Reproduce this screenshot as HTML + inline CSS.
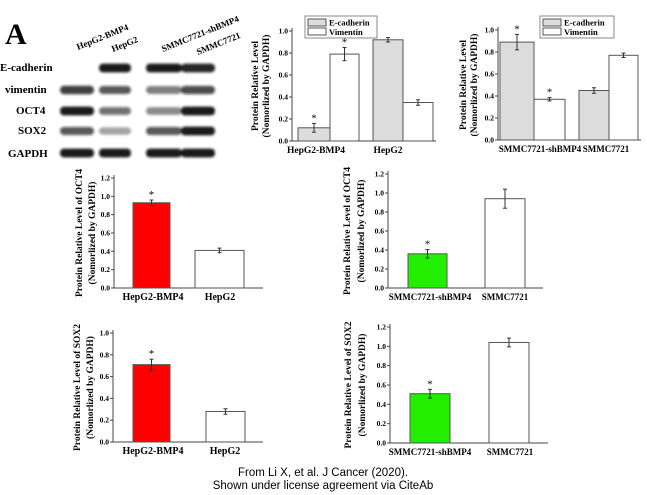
<!DOCTYPE html>
<html><head><meta charset="utf-8"><style>
body{margin:0;background:#fff}
svg{display:block;font-family:"Liberation Serif",serif;font-weight:bold}
</style></head><body>
<svg id="s" width="647" height="495" viewBox="0 0 647 495" xmlns="http://www.w3.org/2000/svg">
<defs><filter id="b" x="-20%" y="-50%" width="140%" height="200%"><feGaussianBlur stdDeviation="1.3"/></filter></defs>
<text x="5" y="44" font-size="30">A</text>
<g font-size="11">
<text x="0" y="71">E-cadherin</text>
<text x="5" y="93">vimentin</text>
<text x="16" y="114">OCT4</text>
<text x="18" y="134">SOX2</text>
<text x="8" y="157">GAPDH</text>
</g>
<g font-size="9">
<text transform="translate(78,50) rotate(-22)">HepG2-BMP4</text>
<text transform="translate(113,52) rotate(-22)">HepG2</text>
<text transform="translate(163,52) rotate(-22)">SMMC7721-shBMP4</text>
<text transform="translate(198,55) rotate(-22)">SMMC7721</text>
</g>
<g id="bands" filter="url(#b)"></g>
<g id="charts" font-weight="bold"></g>
<text x="323" y="476" font-family="Liberation Sans,sans-serif" font-weight="normal" font-size="11.5" text-anchor="middle">From Li X, et al. J Cancer (2020).</text>
<text x="323" y="489" font-family="Liberation Sans,sans-serif" font-weight="normal" font-size="11.5" text-anchor="middle">Shown under license agreement via CiteAb</text>
</svg>
<script>
var NS="http://www.w3.org/2000/svg";
var bands=document.getElementById('bands'),ch=document.getElementById('charts');
function add(p,tag,a,txt){var e=document.createElementNS(NS,tag);for(var k in a)e.setAttribute(k,a[k]);if(txt!=null)e.textContent=txt;p.appendChild(e);return e;}
var lanes=[[77,30],[115,28],[164,32],[198,30]];
var rows=[68,90,111,131,153];
var I=[[0.05,0.95,0.95,0.9],[0.8,0.7,0.55,0.75],[0.95,0.6,0.5,0.95],[0.7,0.4,0.7,0.95],[0.95,0.95,0.95,0.95]];
for(var r=0;r<5;r++)for(var l=0;l<4;l++){var v=I[r][l];if(v<0.1)continue;
add(bands,'rect',{x:lanes[l][0]-lanes[l][1]/2-2,y:rows[r]-3-v*1.5,width:lanes[l][1]+4,height:6+v*3,rx:4,fill:'#111','fill-opacity':v});}
function chart(o){
 var g=ch, s=(o.y0-o.yt)/o.max;
 add(g,'line',{x1:o.x0,y1:o.yt-3,x2:o.x0,y2:o.y0,stroke:'#444','stroke-width':1});
 add(g,'line',{x1:o.x0,y1:o.y0,x2:o.xe,y2:o.y0,stroke:'#444','stroke-width':1});
 for(var v=0;v<=o.max+1e-6;v+=o.step){var y=o.y0-v*s;
  add(g,'line',{x1:o.x0-3,y1:y,x2:o.x0,y2:y,stroke:'#444'});
  add(g,'text',{x:o.x0-4,y:y+2.5,'font-size':7.5,'text-anchor':'end'},v.toFixed(1));}
 o.bars.forEach(function(b){var h=b.v*s;
  add(g,'rect',{x:b.x1,y:o.y0-h,width:b.x2-b.x1,height:h,fill:b.f,stroke:'#555','stroke-width':1});
  var c=(b.x1+b.x2)/2,e=b.e*s;
  add(g,'line',{x1:c,y1:o.y0-h-e,x2:c,y2:o.y0-h+e,stroke:'#333'});
  add(g,'line',{x1:c-2,y1:o.y0-h-e,x2:c+2,y2:o.y0-h-e,stroke:'#333'});
  add(g,'line',{x1:c-2,y1:o.y0-h+e,x2:c+2,y2:o.y0-h+e,stroke:'#333'});
  if(b.st)add(g,'text',{x:c,y:o.y0-h-e-2,'font-size':11,'text-anchor':'middle','font-weight':'normal'},'*');});
 o.labs.forEach(function(l){add(g,'text',{x:l[0],y:o.y0+12,'font-size':o.lf||10,'text-anchor':'middle'},l[1]);});
 var cy=(o.y0+o.yt)/2;
 add(g,'text',{transform:'translate('+o.yl[0]+','+cy+') rotate(-90)','font-size':o.yf||9.5,'text-anchor':'middle'},o.yl[2]);
 add(g,'text',{transform:'translate('+o.yl[1]+','+cy+') rotate(-90)','font-size':o.yf||9.5,'text-anchor':'middle'},'(Nomorlized by GAPDH)');
 if(o.leg){var lx=o.leg[0],ly=o.leg[1];
  add(g,'rect',{x:lx,y:ly,width:o.leg[2],height:22,fill:'#fff',stroke:'#888'});
  add(g,'rect',{x:lx+3,y:ly+3,width:18,height:7,fill:'#ddd',stroke:'#555'});
  add(g,'rect',{x:lx+3,y:ly+12,width:18,height:7,fill:'#fff',stroke:'#555'});
  add(g,'text',{x:lx+24,y:ly+9.5,'font-size':8.5},'E-cadherin');
  add(g,'text',{x:lx+24,y:ly+19,'font-size':8.5},'Vimentin');}
}
var G='#dcdcdc';
chart({x0:292,y0:141,yt:31,max:1,step:0.2,xe:436,bars:[
 {x1:298,x2:330,v:.12,e:.04,f:G,st:1},{x1:330,x2:359,v:.79,e:.06,f:'#fff',st:1},
 {x1:373,x2:403,v:.92,e:.02,f:G},{x1:403,x2:433,v:.35,e:.025,f:'#fff'}],
 labs:[[316,'HepG2-BMP4'],[388,'HepG2']],yl:[258,269,'Protein Relative Level'],leg:[305,16,72],lf:9.5});
chart({x0:498,y0:140,yt:30,max:1,step:0.2,xe:641,bars:[
 {x1:500,x2:534,v:.89,e:.07,f:G,st:1},{x1:534,x2:565,v:.37,e:.015,f:'#fff',st:1},
 {x1:579,x2:609,v:.45,e:.025,f:G},{x1:609,x2:638,v:.77,e:.02,f:'#fff'}],
 labs:[[540,'SMMC7721-shBMP4'],[606,'SMMC7721']],yl:[466,477,'Protein Relative Level'],leg:[540,16,74],lf:9});
chart({x0:114,y0:288,yt:178,max:1.2,step:0.2,xe:263,bars:[
 {x1:133,x2:170,v:.93,e:.03,f:'#ff0000',st:1},{x1:195,x2:244,v:.41,e:.025,f:'#fff'}],
 labs:[[153,'HepG2-BMP4'],[220,'HepG2']],yl:[82,95,'Protein Relative Level of OCT4']});
chart({x0:388,y0:288,yt:174,max:1.2,step:0.2,xe:543,bars:[
 {x1:408,x2:447,v:.36,e:.045,f:'#22ee00',st:1},{x1:485,x2:525,v:.94,e:.1,f:'#fff'}],
 labs:[[430,'SMMC7721-shBMP4'],[505,'SMMC7721']],yl:[350,364,'Protein Relative Level of OCT4'],lf:9});
chart({x0:113,y0:442,yt:333,max:1,step:0.2,xe:263,bars:[
 {x1:133,x2:170,v:.71,e:.05,f:'#ff0000',st:1},{x1:206,x2:245,v:.28,e:.025,f:'#fff'}],
 labs:[[153,'HepG2-BMP4'],[225,'HepG2']],yl:[80,93,'Protein Relative Level of SOX2']});
chart({x0:390,y0:443,yt:327,max:1.2,step:0.2,xe:548,bars:[
 {x1:410,x2:450,v:.51,e:.045,f:'#22ee00',st:1},{x1:489,x2:529,v:1.04,e:.045,f:'#fff'}],
 labs:[[430,'SMMC7721-shBMP4'],[510,'SMMC7721']],yl:[351,365,'Protein Relative Level of SOX2'],lf:9});
</script>
</body></html>
